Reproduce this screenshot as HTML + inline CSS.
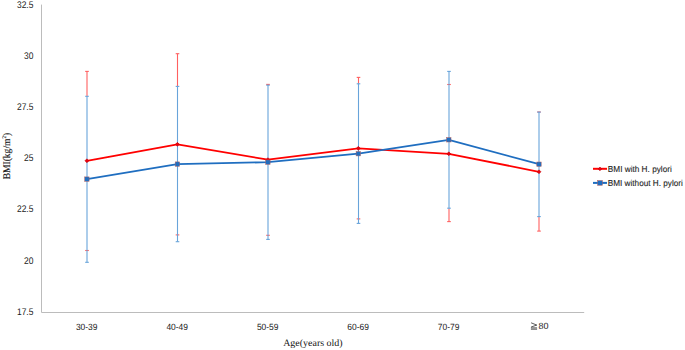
<!DOCTYPE html><html><head><meta charset="utf-8"><style>html,body{margin:0;padding:0;background:#fff;width:685px;height:350px;overflow:hidden}svg{display:block}text{text-rendering:geometricPrecision}.c{stroke:#262626;stroke-width:0.12px}</style></head><body>
<svg width="685" height="350" viewBox="0 0 685 350">
<rect width="685" height="350" fill="#fff"/>
<path d="M41.5 4.6V312.5H584.2" stroke="#bcbcbc" stroke-width="1" fill="none"/>
<text x="33.4" y="7.80" text-anchor="end" font-family="'Liberation Sans', sans-serif" font-size="9.6" fill="#1a1a1a" textLength="16.4" lengthAdjust="spacingAndGlyphs">32.5</text>
<text x="33.4" y="58.97" text-anchor="end" font-family="'Liberation Sans', sans-serif" font-size="9.6" fill="#1a1a1a" textLength="9.4" lengthAdjust="spacingAndGlyphs">30</text>
<text x="33.4" y="110.13" text-anchor="end" font-family="'Liberation Sans', sans-serif" font-size="9.6" fill="#1a1a1a" textLength="16.4" lengthAdjust="spacingAndGlyphs">27.5</text>
<text x="33.4" y="161.30" text-anchor="end" font-family="'Liberation Sans', sans-serif" font-size="9.6" fill="#1a1a1a" textLength="9.4" lengthAdjust="spacingAndGlyphs">25</text>
<text x="33.4" y="212.47" text-anchor="end" font-family="'Liberation Sans', sans-serif" font-size="9.6" fill="#1a1a1a" textLength="16.4" lengthAdjust="spacingAndGlyphs">22.5</text>
<text x="33.4" y="263.63" text-anchor="end" font-family="'Liberation Sans', sans-serif" font-size="9.6" fill="#1a1a1a" textLength="9.4" lengthAdjust="spacingAndGlyphs">20</text>
<text x="33.4" y="314.80" text-anchor="end" font-family="'Liberation Sans', sans-serif" font-size="9.6" fill="#1a1a1a" textLength="16.4" lengthAdjust="spacingAndGlyphs">17.5</text>
<text x="86.70" y="329.5" text-anchor="middle" font-family="'Liberation Sans', sans-serif" font-size="9" textLength="21.6" lengthAdjust="spacingAndGlyphs" fill="#1a1a1a">30-39</text>
<text x="177.20" y="329.5" text-anchor="middle" font-family="'Liberation Sans', sans-serif" font-size="9" textLength="21.6" lengthAdjust="spacingAndGlyphs" fill="#1a1a1a">40-49</text>
<text x="267.70" y="329.5" text-anchor="middle" font-family="'Liberation Sans', sans-serif" font-size="9" textLength="21.6" lengthAdjust="spacingAndGlyphs" fill="#1a1a1a">50-59</text>
<text x="358.10" y="329.5" text-anchor="middle" font-family="'Liberation Sans', sans-serif" font-size="9" textLength="21.6" lengthAdjust="spacingAndGlyphs" fill="#1a1a1a">60-69</text>
<text x="448.60" y="329.5" text-anchor="middle" font-family="'Liberation Sans', sans-serif" font-size="9" textLength="21.6" lengthAdjust="spacingAndGlyphs" fill="#1a1a1a">70-79</text>
<path d="M531.1 322.8L536.8 325.1L531.1 327.0M530.9 327.9H537.1M530.9 329.2H537.1" stroke="#1a1a1a" stroke-width="0.8" fill="none" opacity="0.9"/>
<text x="538.6" y="329.1" font-family="'Liberation Sans', sans-serif" font-size="9" fill="#1a1a1a">80</text>
<path d="M87.00 71.40V96.30" stroke="#ff6060" stroke-width="1.1" fill="none"/>
<path d="M85.20 71.40H88.80" stroke="#ff6060" stroke-width="1.1" fill="none"/>
<path d="M85.20 250.50H88.80" stroke="#ff6060" stroke-width="1.1" fill="none"/>
<path d="M177.50 53.70V86.40" stroke="#ff6060" stroke-width="1.1" fill="none"/>
<path d="M175.70 53.70H179.30" stroke="#ff6060" stroke-width="1.1" fill="none"/>
<path d="M175.70 234.90H179.30" stroke="#ff6060" stroke-width="1.1" fill="none"/>
<path d="M268.00 84.40V85.20" stroke="#ff6060" stroke-width="1.1" fill="none"/>
<path d="M266.20 84.40H269.80" stroke="#ff6060" stroke-width="1.1" fill="none"/>
<path d="M266.20 235.30H269.80" stroke="#ff6060" stroke-width="1.1" fill="none"/>
<path d="M358.50 77.40V83.80" stroke="#ff6060" stroke-width="1.1" fill="none"/>
<path d="M356.70 77.40H360.30" stroke="#ff6060" stroke-width="1.1" fill="none"/>
<path d="M356.70 218.90H360.30" stroke="#ff6060" stroke-width="1.1" fill="none"/>
<path d="M449.00 208.20V221.60" stroke="#ff6060" stroke-width="1.1" fill="none"/>
<path d="M447.20 84.50H450.80" stroke="#ff6060" stroke-width="1.1" fill="none"/>
<path d="M447.20 221.60H450.80" stroke="#ff6060" stroke-width="1.1" fill="none"/>
<path d="M539.00 112.00V112.10" stroke="#ff6060" stroke-width="1.1" fill="none"/>
<path d="M539.00 216.60V231.10" stroke="#ff6060" stroke-width="1.1" fill="none"/>
<path d="M537.20 112.00H540.80" stroke="#ff6060" stroke-width="1.1" fill="none"/>
<path d="M537.20 231.10H540.80" stroke="#ff6060" stroke-width="1.1" fill="none"/>
<path d="M87.00 96.30V262.30" stroke="#68a4da" stroke-width="1.1" fill="none"/>
<path d="M85.20 96.30H88.80" stroke="#68a4da" stroke-width="1.1" fill="none"/>
<path d="M85.20 262.30H88.80" stroke="#68a4da" stroke-width="1.1" fill="none"/>
<path d="M177.50 86.40V241.70" stroke="#68a4da" stroke-width="1.1" fill="none"/>
<path d="M175.70 86.40H179.30" stroke="#68a4da" stroke-width="1.1" fill="none"/>
<path d="M175.70 241.70H179.30" stroke="#68a4da" stroke-width="1.1" fill="none"/>
<path d="M268.00 85.20V239.40" stroke="#68a4da" stroke-width="1.1" fill="none"/>
<path d="M266.20 85.20H269.80" stroke="#68a4da" stroke-width="1.1" fill="none"/>
<path d="M266.20 239.40H269.80" stroke="#68a4da" stroke-width="1.1" fill="none"/>
<path d="M358.50 83.80V223.40" stroke="#68a4da" stroke-width="1.1" fill="none"/>
<path d="M356.70 83.80H360.30" stroke="#68a4da" stroke-width="1.1" fill="none"/>
<path d="M356.70 223.40H360.30" stroke="#68a4da" stroke-width="1.1" fill="none"/>
<path d="M449.00 71.40V208.20" stroke="#68a4da" stroke-width="1.1" fill="none"/>
<path d="M447.20 71.40H450.80" stroke="#68a4da" stroke-width="1.1" fill="none"/>
<path d="M447.20 208.20H450.80" stroke="#68a4da" stroke-width="1.1" fill="none"/>
<path d="M539.00 112.10V216.60" stroke="#68a4da" stroke-width="1.1" fill="none"/>
<path d="M537.20 112.10H540.80" stroke="#68a4da" stroke-width="1.1" fill="none"/>
<path d="M537.20 216.60H540.80" stroke="#68a4da" stroke-width="1.1" fill="none"/>
<polyline points="86.90,160.80 177.40,144.36 267.90,159.70 358.30,148.36 448.80,153.80 539.00,171.80" stroke="#ff0000" stroke-width="1.8" fill="none" stroke-linejoin="round"/>
<path d="M86.90 158.80L88.90 160.80L86.90 162.80L84.90 160.80Z" fill="#e8000e" stroke="#c00000" stroke-width="0.5"/>
<path d="M177.40 142.36L179.40 144.36L177.40 146.36L175.40 144.36Z" fill="#e8000e" stroke="#c00000" stroke-width="0.5"/>
<path d="M267.90 157.70L269.90 159.70L267.90 161.70L265.90 159.70Z" fill="#e8000e" stroke="#c00000" stroke-width="0.5"/>
<path d="M358.30 146.36L360.30 148.36L358.30 150.36L356.30 148.36Z" fill="#e8000e" stroke="#c00000" stroke-width="0.5"/>
<path d="M448.80 151.80L450.80 153.80L448.80 155.80L446.80 153.80Z" fill="#e8000e" stroke="#c00000" stroke-width="0.5"/>
<path d="M539.00 169.80L541.00 171.80L539.00 173.80L537.00 171.80Z" fill="#e8000e" stroke="#c00000" stroke-width="0.5"/>
<polyline points="86.90,179.10 177.40,164.10 267.90,162.20 358.30,153.70 448.80,139.80 539.00,164.20" stroke="#1f6ec0" stroke-width="1.8" fill="none" stroke-linejoin="round"/>
<rect x="84.70" y="176.90" width="4.4" height="4.4" fill="#1f6ec0" stroke="#b06060" stroke-width="0.5"/>
<rect x="175.20" y="161.90" width="4.4" height="4.4" fill="#1f6ec0" stroke="#b06060" stroke-width="0.5"/>
<rect x="265.70" y="160.00" width="4.4" height="4.4" fill="#1f6ec0" stroke="#b06060" stroke-width="0.5"/>
<rect x="356.10" y="151.50" width="4.4" height="4.4" fill="#1f6ec0" stroke="#b06060" stroke-width="0.5"/>
<rect x="446.60" y="137.60" width="4.4" height="4.4" fill="#1f6ec0" stroke="#b06060" stroke-width="0.5"/>
<rect x="536.80" y="162.00" width="4.4" height="4.4" fill="#1f6ec0" stroke="#b06060" stroke-width="0.5"/>
<path d="M593 168.8H607" stroke="#ff0000" stroke-width="2"/>
<path d="M600 167.1L601.8 168.9L600 170.7L598.2 168.9Z" fill="#f00010" stroke="#b00010" stroke-width="0.6"/>
<path d="M593 182.9H607" stroke="#1f6ec0" stroke-width="2"/>
<rect x="597.6" y="180.5" width="4.8" height="4.8" fill="#1f6ec0" stroke="#b06060" stroke-width="0.5"/>
<text x="607.8" y="171.6" font-family="'Liberation Sans', sans-serif" class="c" font-size="8.6" fill="#262626" textLength="64" lengthAdjust="spacingAndGlyphs">BMI with H. pylori</text>
<text x="607.8" y="185.6" font-family="'Liberation Sans', sans-serif" class="c" font-size="8.6" fill="#262626" textLength="75" lengthAdjust="spacingAndGlyphs">BMI without H. pylori</text>
<text x="283.2" y="345.8" font-family="'Liberation Serif', serif" font-size="9.8" fill="#111" textLength="59.4" lengthAdjust="spacingAndGlyphs">Age(years old)</text>
<text transform="translate(9.8 179.3) rotate(-90)" x="0" y="0" font-family="'Liberation Serif', serif" font-size="10.2" fill="#1a1a1a" stroke="#1a1a1a" stroke-width="0.15" textLength="46.5" lengthAdjust="spacingAndGlyphs">BMI(kg/m<tspan font-size="5.5" dy="-4">2</tspan><tspan dy="4">)</tspan></text>
</svg></body></html>
